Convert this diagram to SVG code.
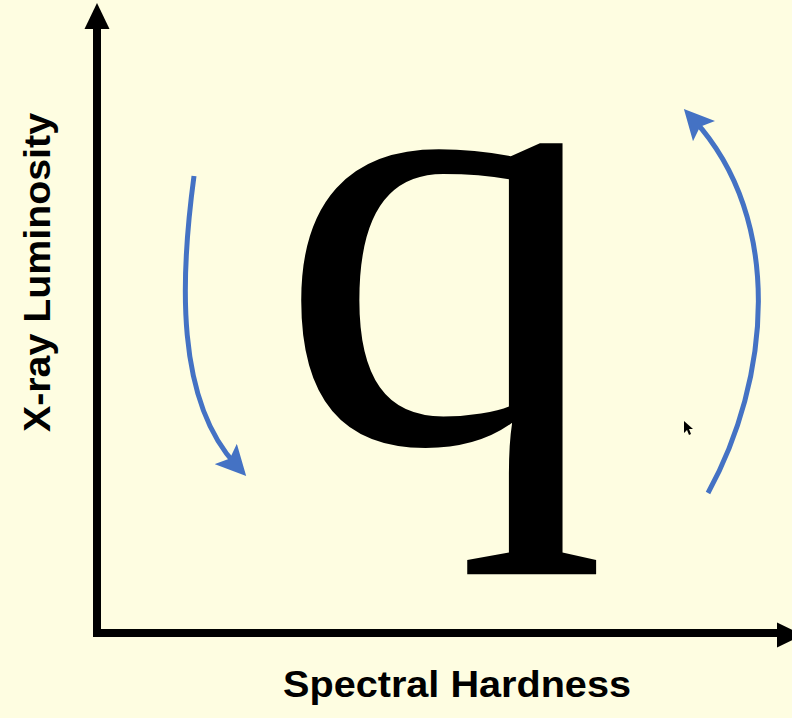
<svg xmlns="http://www.w3.org/2000/svg" width="792" height="718" viewBox="0 0 792 718">
<defs>
<style>
.axis{stroke:#000;stroke-width:8;fill:none}
.flow{stroke:#4472C4;stroke-width:5;fill:none}
.lbl{font-family:"Liberation Sans",Arial,sans-serif;font-weight:bold;font-size:36px;fill:#000}
</style>
<marker id="blueHead" markerWidth="6" markerHeight="6" refX="3" refY="3" orient="auto" markerUnits="strokeWidth">
<path d="M0,0 L6,3 L0,6 L1.2,3 Z" fill="#4472C4"/>
</marker>
</defs>
<rect width="792" height="718" fill="#FEFDE1"/>
<g id="axes">
<line class="axis" x1="97" y1="637" x2="97" y2="26"/>
<polygon points="97,3 84.5,29 109.5,29" fill="#000"/>
<line class="axis" x1="93" y1="633" x2="780" y2="633"/>
<polygon points="803,635 777,622.5 777,647.5" fill="#000"/>
</g>
<g id="glyph">
<text x="449" y="440" text-anchor="middle" transform="translate(449,575) scale(1.05,0.986) translate(-455,-575)" font-family="'Liberation Serif','Times New Roman',serif" font-size="630" fill="#000">q</text>
</g>
<g id="connectors">
<path class="flow" d="M194,176 C180,280 176,400 236,465" marker-end="url(#blueHead)"/>
<path class="flow" d="M708,493 C770,380 785,220 694,120" marker-end="url(#blueHead)"/>
</g>
<g id="cursor">
<polygon points="684,421 684,433 687,430 689,435 691,434 689,429 693,429" fill="#000"/>
</g>
<g id="xlabel">
<text class="lbl" x="283" y="697" textLength="348" lengthAdjust="spacingAndGlyphs">Spectral Hardness</text>
</g>
<g id="ylabel">
<text class="lbl" transform="translate(50,432) rotate(-90)" x="0" y="0" textLength="319" lengthAdjust="spacingAndGlyphs">X-ray Luminosity</text>
</g>
</svg>
